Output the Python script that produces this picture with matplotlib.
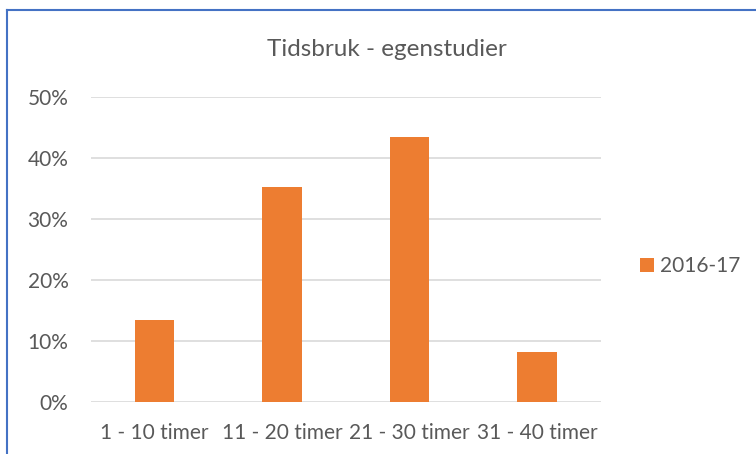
import matplotlib.pyplot as plt
from matplotlib.lines import Line2D

categories = ["1 - 10 timer", "11 - 20 timer", "21 - 30 timer", "31 - 40 timer"]
values = [13.5, 35.2, 43.4, 8.1]
series_name = "2016-17"

plt.rcParams['font.family'] = ['Lato', 'DejaVu Sans']

fig = plt.figure(figsize=(7.56, 4.54), dpi=100)
ax = fig.add_axes([0.120, 0.115, 0.675, 0.671])

x = range(len(categories))
ax.bar(x, [v / 100 for v in values], width=0.31, color='#ED7D31', label=series_name, zorder=3)

ax.set_xlim(-0.5, len(categories) - 0.5)
ax.set_ylim(0, 0.5)
ax.set_yticks([0, 0.1, 0.2, 0.3, 0.4, 0.5])
ax.set_yticklabels(["0%", "10%", "20%", "30%", "40%", "50%"])
ax.set_xticks(list(x))
ax.set_xticklabels(categories)
ax.tick_params(axis='both', length=0, labelsize=15, colors='#595959')
ax.tick_params(axis='y', pad=16)
ax.tick_params(axis='x', pad=15)
ax.grid(axis='y', color='#D9D9D9', linewidth=1.2, zorder=0)
for s in ax.spines.values():
    s.set_visible(False)

fig.text(0.512, 0.892, "Tidsbruk - egenstudier", ha='center', va='center',
         fontsize=17.5, color='#595959')

ax.legend(loc='center left', bbox_to_anchor=(1.076, 0.445), frameon=False,
          fontsize=15, labelcolor='#595959', handlelength=0.67, handleheight=0.67,
          handletextpad=0.3, borderaxespad=0, borderpad=0)

# blue chart border (top and left edges visible)
fig.add_artist(Line2D([0.0095, 0.0095], [0.0, 0.978], color='#4472C4', linewidth=1.5,
                      transform=fig.transFigure))
fig.add_artist(Line2D([0.0095, 1.0], [0.978, 0.978], color='#4472C4', linewidth=1.5,
                      transform=fig.transFigure))

fig.savefig("out.png", dpi=100)
